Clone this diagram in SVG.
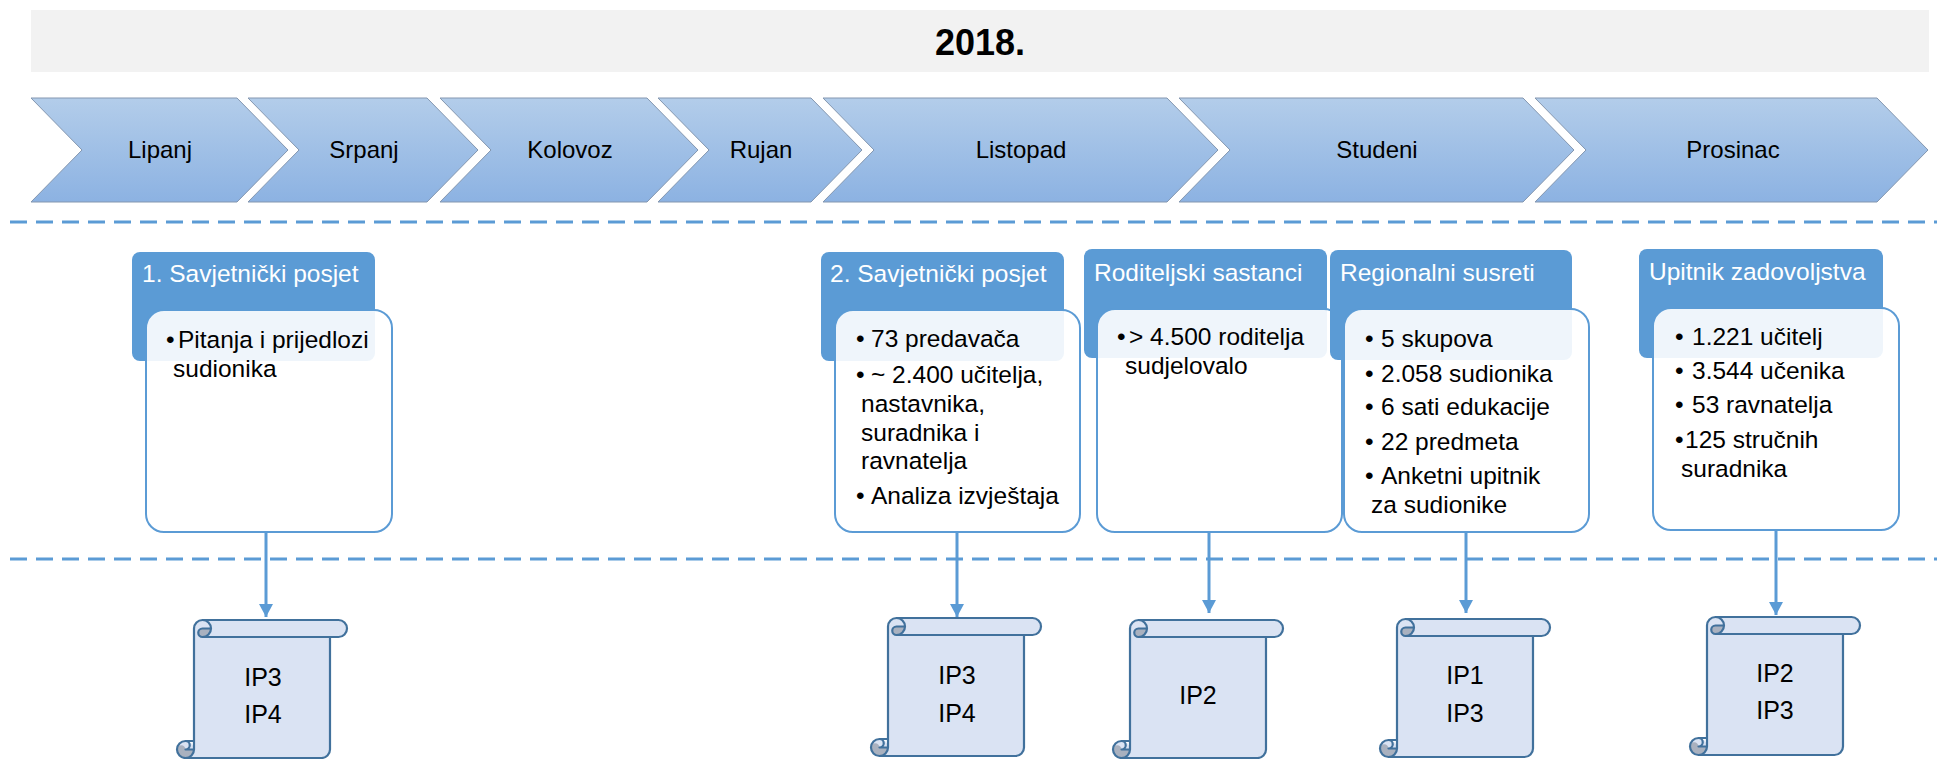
<svg xmlns="http://www.w3.org/2000/svg" xmlns:xlink="http://www.w3.org/1999/xlink" width="1937" height="759" viewBox="0 0 1937 759">
<style>
text{font-family:"Liberation Sans",Arial,sans-serif;}
.title{font-size:36px;font-weight:bold;fill:#000;text-anchor:middle;}
.month{font-size:24px;fill:#000;text-anchor:middle;}
.chev{fill:url(#chevGrad);stroke:#8497B0;stroke-width:1;}
.dash{stroke:#5B9BD5;stroke-width:3;stroke-dasharray:17 9;fill:none;}
.hdr{fill:#5B9BD5;}
.hdrt{font-size:24.5px;fill:#fff;}
.body{fill:#fff;fill-opacity:0.9;stroke:#5B9BD5;stroke-width:2;}
.bt{font-size:24.5px;fill:#000;}
.conn{stroke:#5B9BD5;stroke-width:3;fill:none;}
.scfill{fill:#DAE3F3;stroke:none;}
.scdark{fill:#A9B1BF;stroke:none;}
.scline{fill:none;stroke:#41719C;stroke-width:2.2;stroke-linejoin:round;}
.st{font-size:25px;fill:#000;text-anchor:middle;}
</style>
<defs>
<linearGradient id="chevGrad" x1="0" y1="0" x2="0" y2="1">
<stop offset="0" stop-color="#B3CDEA"/>
<stop offset="1" stop-color="#8CB2E2"/>
</linearGradient>
<marker id="arr" markerUnits="userSpaceOnUse" markerWidth="14" markerHeight="14" refX="13" refY="7" orient="auto">
<path d="M0,0 L13,7 L0,14 Z" fill="#5B9BD5"/>
</marker>
<g id="scroll">
<path class="scfill" d="M8.5,138 A8.5,8.5 0 0 0 17,129.5 L17,8.5 A8.5,8.5 0 0 1 25.5,0 L161.5,0 A8.5,8.5 0 0 1 161.5,17 L153,17 L153,129.5 A8.5,8.5 0 0 1 144.5,138 Z M0,129.5 A8.5,8.5 0 1 0 17,129.5 A8.5,8.5 0 1 0 0,129.5 Z"/>
<path class="scdark" d="M34,8.5 A8.5,8.5 0 0 1 25.5,17 A4.25,4.25 0 0 1 25.5,8.5 Z M17,129.5 A8.5,8.5 0 0 1 0,129.5 A4.25,4.25 0 0 1 8.5,129.5 Z"/>
<path class="scline" d="M17,121 L17,8.5 A8.5,8.5 0 0 1 25.5,0 L161.5,0 A8.5,8.5 0 0 1 161.5,17 L153,17 L153,129.5 A8.5,8.5 0 0 1 144.5,138 L8.5,138 A8.5,8.5 0 0 1 8.5,121 Z M25.5,0 A8.5,8.5 0 0 1 25.5,17 A4.25,4.25 0 0 1 25.5,8.5 L34,8.5 M153,17 L25.5,17 M8.5,121 A4.25,4.25 0 0 1 8.5,129.5 L17,129.5 M8.5,138 A8.5,8.5 0 0 0 17,129.5 L17,121"/>
</g>
</defs>

<g id="title-bar">
<rect x="31" y="10" width="1898" height="62" fill="#F2F2F2"/>
<text class="title" x="980" y="55">2018.</text>
</g>

<g id="months">
<g id="m-lipanj"><polygon class="chev" points="31,98 237,98 288,150 237,202 31,202 82,150"/><text class="month" x="160" y="158">Lipanj</text></g>
<g id="m-srpanj"><polygon class="chev" points="248,98 427,98 478,150 427,202 248,202 299,150"/><text class="month" x="364" y="158">Srpanj</text></g>
<g id="m-kolovoz"><polygon class="chev" points="440,98 647,98 698,150 647,202 440,202 491,150"/><text class="month" x="570" y="158">Kolovoz</text></g>
<g id="m-rujan"><polygon class="chev" points="658,98 811,98 862,150 811,202 658,202 709,150"/><text class="month" x="761" y="158">Rujan</text></g>
<g id="m-listopad"><polygon class="chev" points="823,98 1167,98 1218,150 1167,202 823,202 874,150"/><text class="month" x="1021" y="158">Listopad</text></g>
<g id="m-studeni"><polygon class="chev" points="1179,98 1523,98 1574,150 1523,202 1179,202 1230,150"/><text class="month" x="1377" y="158">Studeni</text></g>
<g id="m-prosinac"><polygon class="chev" points="1535,98 1877,98 1928,150 1877,202 1535,202 1586,150"/><text class="month" x="1733" y="158">Prosinac</text></g>
</g>

<g id="separators">
<line class="dash" x1="10" y1="222" x2="1937" y2="222"/>
<line class="dash" x1="10" y1="559" x2="1937" y2="559"/>
</g>

<g id="node1">
<rect class="hdr" x="132" y="252" width="243" height="109" rx="8"/>
<text class="hdrt" x="142" y="282">1. Savjetnički posjet</text>
<rect class="body" x="146" y="310" width="246" height="222" rx="18"/>
<text class="bt"><tspan x="166" y="348">•</tspan><tspan x="178" y="348">Pitanja i prijedlozi</tspan><tspan x="173" y="377">sudionika</tspan></text>
</g>

<g id="node2">
<rect class="hdr" x="821" y="252" width="243" height="109" rx="8"/>
<text class="hdrt" x="830" y="282">2. Savjetnički posjet</text>
<rect class="body" x="835" y="310" width="245" height="222" rx="18"/>
<text class="bt"><tspan x="856" y="347">•</tspan><tspan x="871" y="347">73 predavača</tspan><tspan x="856" y="383">•</tspan><tspan x="871" y="383">~ 2.400 učitelja,</tspan><tspan x="861" y="412">nastavnika,</tspan><tspan x="861" y="441">suradnika i</tspan><tspan x="861" y="469">ravnatelja</tspan><tspan x="856" y="504">•</tspan><tspan x="871" y="504">Analiza izvještaja</tspan></text>
</g>

<g id="node3">
<rect class="hdr" x="1084" y="249" width="243" height="109" rx="8"/>
<text class="hdrt" x="1094" y="281">Roditeljski sastanci</text>
<rect class="body" x="1097" y="309" width="245" height="223" rx="18"/>
<text class="bt"><tspan x="1117" y="345">•</tspan><tspan x="1129" y="345">&gt; 4.500 roditelja</tspan><tspan x="1125" y="374">sudjelovalo</tspan></text>
</g>

<g id="node4">
<rect class="hdr" x="1330" y="250" width="242" height="110" rx="8"/>
<text class="hdrt" x="1340" y="281">Regionalni susreti</text>
<rect class="body" x="1344" y="309" width="245" height="223" rx="18"/>
<text class="bt"><tspan x="1365" y="347">•</tspan><tspan x="1381" y="347">5 skupova</tspan><tspan x="1365" y="382">•</tspan><tspan x="1381" y="382">2.058 sudionika</tspan><tspan x="1365" y="415">•</tspan><tspan x="1381" y="415">6 sati edukacije</tspan><tspan x="1365" y="450">•</tspan><tspan x="1381" y="450">22 predmeta</tspan><tspan x="1365" y="484">•</tspan><tspan x="1381" y="484">Anketni upitnik</tspan><tspan x="1371" y="513">za sudionike</tspan></text>
</g>

<g id="node5">
<rect class="hdr" x="1639" y="249" width="244" height="109" rx="8"/>
<text class="hdrt" x="1649" y="280">Upitnik zadovoljstva</text>
<rect class="body" x="1653" y="308" width="246" height="222" rx="18"/>
<text class="bt"><tspan x="1675" y="345">•</tspan><tspan x="1692" y="345">1.221 učitelj</tspan><tspan x="1675" y="379">•</tspan><tspan x="1692" y="379">3.544 učenika</tspan><tspan x="1675" y="413">•</tspan><tspan x="1692" y="413">53 ravnatelja</tspan><tspan x="1675" y="448">•</tspan><tspan x="1685" y="448">125 stručnih</tspan><tspan x="1681" y="477">suradnika</tspan></text>
</g>

<g id="connectors">
<line class="conn" x1="266" y1="532" x2="266" y2="617" marker-end="url(#arr)"/>
<line class="conn" x1="957" y1="532" x2="957" y2="617" marker-end="url(#arr)"/>
<line class="conn" x1="1209" y1="532" x2="1209" y2="613" marker-end="url(#arr)"/>
<line class="conn" x1="1466" y1="532" x2="1466" y2="613" marker-end="url(#arr)"/>
<line class="conn" x1="1776" y1="530" x2="1776" y2="615" marker-end="url(#arr)"/>
</g>

<g id="scroll1"><use xlink:href="#scroll" href="#scroll" transform="translate(177,620)"/><text class="st" x="263" y="686">IP3</text><text class="st" x="263" y="723">IP4</text></g>
<g id="scroll2"><use xlink:href="#scroll" href="#scroll" transform="translate(871,618)"/><text class="st" x="957" y="684">IP3</text><text class="st" x="957" y="722">IP4</text></g>
<g id="scroll3"><use xlink:href="#scroll" href="#scroll" transform="translate(1113,620)"/><text class="st" x="1198" y="704">IP2</text></g>
<g id="scroll4"><use xlink:href="#scroll" href="#scroll" transform="translate(1380,619)"/><text class="st" x="1465" y="684">IP1</text><text class="st" x="1465" y="722">IP3</text></g>
<g id="scroll5"><use xlink:href="#scroll" href="#scroll" transform="translate(1690,617)"/><text class="st" x="1775" y="682">IP2</text><text class="st" x="1775" y="719">IP3</text></g>
</svg>
